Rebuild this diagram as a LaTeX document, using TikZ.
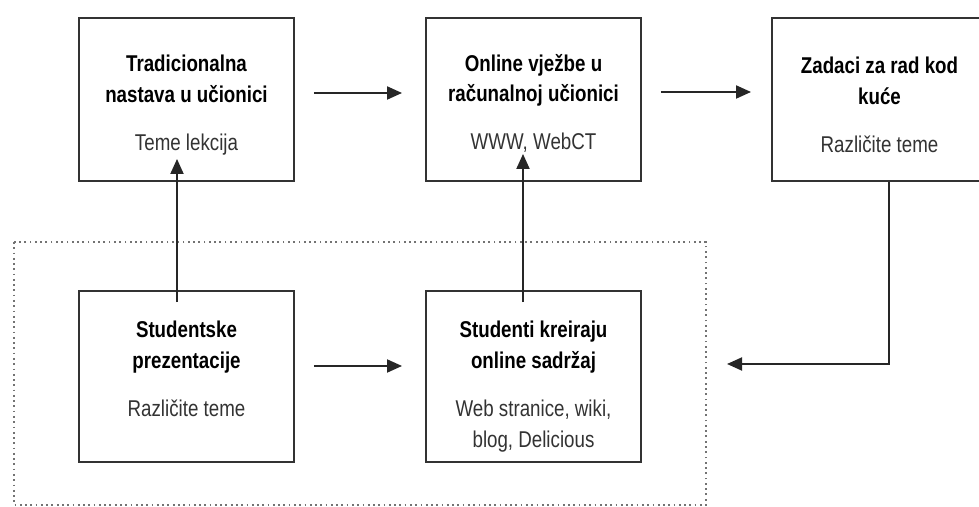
\documentclass[tikz,border=0pt]{standalone}
\usepackage{fontspec}
\setmainfont{Liberation Sans}[FakeStretch=0.82]
\usepackage{tikz}
\usetikzlibrary{arrows.meta}

\tikzstyle{blok}=[rectangle, draw=black!80, line width=1.1pt, inner sep=0pt, fill=white]
\tikzstyle{strel}=[-{Triangle[length=3mm,width=2.6mm]}, line width=1.1pt, draw=black!85]
\newcommand{\boxtext}[4][0.64cm]{\parbox[c][#2][t]{4.3cm}{\centering\vspace*{#1}%
  \fontsize{13pt}{17.6pt}\selectfont\textbf{#3}\par\vspace{0.34cm}\color{black!80}#4}}

\begin{document}
\begin{tikzpicture}[auto, thick, scale=1]
\useasboundingbox (0,0) rectangle (19.58,10.14);

% okvir oko studentskih aktivnosti
\draw[dotted, line width=1pt, black!55] (0.28,5.3) rectangle (14.12,0.04);

\node[blok] (b1) at (3.73,8.15) {\boxtext[0.74cm]{3.26cm}{Tradicionalna\\nastava u učionici}{Teme lekcija}};
\node[blok] (b2) at (10.67,8.15) {\boxtext[0.72cm]{3.26cm}{Online vježbe u\\računalnoj učionici}{WWW, WebCT}};
\node[blok] (b3) at (17.59,8.15) {\boxtext[0.78cm]{3.26cm}{Zadaci za rad kod\\kuće}{Različite teme}};
\node[blok] (b4) at (3.73,2.61) {\boxtext[0.6cm]{3.42cm}{Studentske\\prezentacije}{Različite teme}};
\node[blok] (b5) at (10.67,2.61) {\boxtext[0.6cm]{3.42cm}{Studenti kreiraju\\online sadržaj}{Web stranice, wiki,\\blog, Delicious}};
\coordinate (ret) at (14.54,2.86);

\draw[strel, shorten <=0.38cm, shorten >=0.46cm] ([yshift=0.13cm]b1.east) -- ([yshift=0.13cm]b2.west);
\draw[strel, shorten <=0.38cm, shorten >=0.40cm] ([yshift=0.15cm]b2.east) -- ([yshift=0.15cm]b3.west);
\draw[strel, shorten <=0.38cm, shorten >=0.46cm] ([yshift=0.21cm]b4.east) -- ([yshift=0.21cm]b5.west);
\draw[strel] ([xshift=-0.19cm,yshift=-0.24cm]b4.north) -- ([xshift=-0.19cm,yshift=0.46cm]b1.south);
\draw[strel] ([xshift=-0.21cm,yshift=-0.24cm]b5.north) -- ([xshift=-0.21cm,yshift=0.56cm]b2.south);
\draw[strel] ([xshift=0.19cm]b3.south) |- (ret);

\end{tikzpicture}
\end{document}
